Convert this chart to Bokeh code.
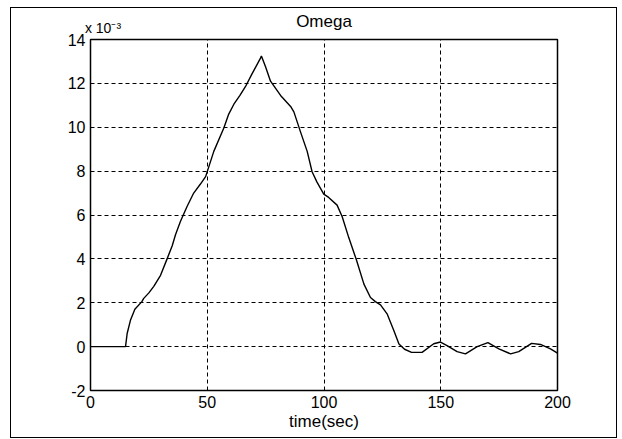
from bokeh.plotting import figure
from bokeh.models import FixedTicker, Range1d, LinearAxis
from bokeh.embed import file_html
from bokeh.resources import INLINE

# time (sec)
t = [0, 15, 15.7, 17.1, 19, 22, 22.8, 25, 27.1, 30, 32.8, 35, 36.4, 38.5,
     41.4, 44.2, 47, 49.3, 52.8, 57.1, 59.2, 61.4, 64, 66.4, 69, 72.8, 73.2,
     75, 77.1, 81.4, 85.7, 87.1, 89.9, 92.8, 94.9, 97, 99.9, 102, 105.6,
     107.8, 110.6, 113.9, 117.1, 119.9, 122, 124.2, 127.1, 129.9, 132.1,
     134.5, 137.5, 142, 147, 149.9, 152.7, 157, 160.6, 165.6, 170.2, 174.9,
     179.9, 183.4, 188.9, 192.7, 197, 200]
# Omega (x 1e-3)
omega = [0, 0, 0.6, 1.2, 1.7, 2.05, 2.2, 2.45, 2.75, 3.25, 4.0, 4.6, 5.1, 5.7,
         6.4, 7.0, 7.4, 7.75, 8.9, 9.97, 10.6, 11.05, 11.45, 11.86, 12.4,
         13.15, 13.25, 12.75, 12.1, 11.45, 10.95, 10.7, 9.8, 8.9, 7.97, 7.5,
         6.95, 6.8, 6.45, 5.92, 4.97, 3.95, 2.85, 2.24, 2.05, 1.9, 1.48, 0.73,
         0.12, -0.12, -0.26, -0.26, 0.13, 0.21, 0.05, -0.23, -0.33, 0.0, 0.18,
         -0.1, -0.33, -0.23, 0.15, 0.1, -0.1, -0.3]

x_ticks = [0, 50, 100, 150, 200]
y_ticks = [-2, 0, 2, 4, 6, 8, 10, 12, 14]
y_tick_labels = ["-2", "0", "2", "4", "6", "8", "10", "12", "14"]
title_text = "Omega"
scale_text = "x 10\u207b\u00b3"

FONT = "Liberation Sans"
FS = "16px"
FS_BIG = "17px"

p = figure(width=605, height=429, output_backend="svg", toolbar_location=None,
           x_range=Range1d(0, 200), y_range=Range1d(-2, 14),
           frame_width=467, frame_height=351,
           min_border_left=79, min_border_right=59,
           min_border_top=31, min_border_bottom=47)
p.margin = (8, 0, 0, 11)
p.styles = {"outline": "1px solid black"}
p.background_fill_color = "white"
p.border_fill_color = "white"
p.outline_line_color = "black"
p.outline_line_width = 1.5

p.line(t, omega, line_color="black", line_width=1.4)


def style_axis(ax, size=FS):
    ax.axis_line_color = None
    ax.major_tick_in = 0
    ax.major_tick_out = 0
    ax.minor_tick_line_color = None
    ax.major_label_text_font = FONT
    ax.major_label_text_font_size = size
    ax.major_label_text_color = "black"


style_axis(p.xaxis[0])
style_axis(p.yaxis[0])

p.xaxis.ticker = FixedTicker(ticks=x_ticks)
p.yaxis.ticker = FixedTicker(ticks=y_ticks)
p.yaxis.major_label_overrides = dict(zip(y_ticks, y_tick_labels))
p.xaxis.major_label_standoff = 5
p.yaxis.major_label_standoff = 5
p.xaxis.axis_label = "time(sec)"
p.xaxis.axis_label_text_font = FONT
p.xaxis.axis_label_text_font_size = FS_BIG
p.xaxis.axis_label_text_font_style = "normal"
p.xaxis.axis_label_text_color = "black"
p.xaxis.axis_label_standoff = 1

# scale factor text (inner above axis)
ax_scale = LinearAxis(ticker=FixedTicker(ticks=[5.35]),
                      major_label_overrides={5.35: scale_text})
style_axis(ax_scale, "14px")
ax_scale.major_label_standoff = 4
p.add_layout(ax_scale, "above")

# title (outer above axis)
ax_title = LinearAxis(ticker=FixedTicker(ticks=[100]),
                      major_label_overrides={100: title_text})
style_axis(ax_title, FS_BIG)
ax_title.major_label_standoff = -14
p.add_layout(ax_title, "above")

for g in (p.xgrid[0], p.ygrid[0]):
    g.grid_line_color = "black"
    g.grid_line_dash = "4 3"
    g.grid_line_width = 1

p.xgrid.ticker = FixedTicker(ticks=x_ticks)
p.ygrid.ticker = FixedTicker(ticks=y_ticks)

open("out.html", "w").write(file_html(p, INLINE))
